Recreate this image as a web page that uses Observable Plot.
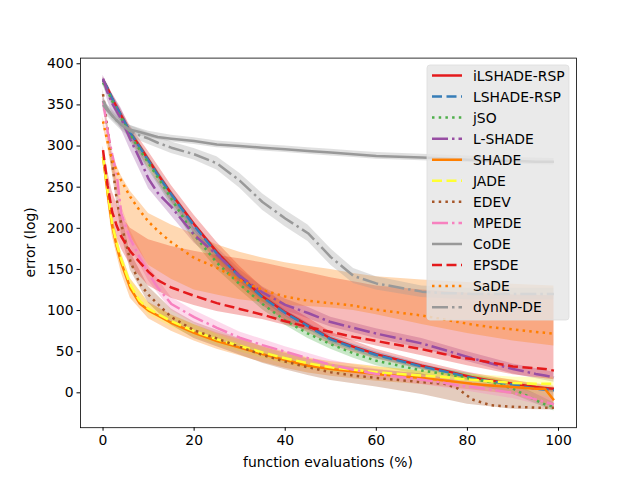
<!DOCTYPE html>
<html>
<head>
<meta charset="utf-8">
<script src="https://cdn.jsdelivr.net/npm/d3@7"></script>
<script src="https://cdn.jsdelivr.net/npm/@observablehq/plot@0.6"></script>
<style>
  html, body { margin: 0; padding: 0; background: white; }
</style>
</head>
<body>
<div id="chart"></div>
<script>
// x positions (function evaluations %) for the mean lines
const X = [0,1,2,3,4,6,8,10,12,15,20,25,30,35,40,45,50,55,60,70,75,78,81,85,90,95,97,99];
// x positions for the shaded bands
const BX = [0,1,2,4,6,10,15,20,25,30,35,40,45,50,55,60,70,80,90,99];

const names = ["iLSHADE-RSP","LSHADE-RSP","jSO","L-SHADE","SHADE","JADE","EDEV","MPEDE","CoDE","EPSDE","SaDE","dynNP-DE"];
const colors = ["#e41a1c","#377eb8","#4daf4a","#984ea3","#ff7f00","#ffff33","#a65628","#f781bf","#999999","#e41a1c","#ff7f00","#999999"];
const styles = ["solid","dashed","dotted","dashdot","solid","dashed","dotted","dashdot","solid","dashed","dotted","dashdot"];
const xTicks = [0,20,40,60,80,100];
const yTicks = [0,50,100,150,200,250,300,350,400];

// mean lines (on X)
const iLSHADE_RSP = [380,370,358,347,337,316,300,283,266,242,205,171,142,117,98,82,66,56,47,33,27,23,19,15,11,7,6,5];
const LSHADE_RSP  = [380,370,358,347,337,316,299,282,265,241,203,169,141,116,97,81,65,55,46,32,26,22,18,14,10,5,4,3];
const jSO         = [377,367,355,344,334,313,296,279,262,236,192,158,132,108,88,72,59,48,39,27,23,20,17,13,5,-9,-14,-17];
const L_SHADE     = [382,365,352,342,333,308,285,260,243,226,192,168,142,122,107,97,86,79,72,60,52,47,42,36,29,23,21,19];
const SHADE       = [287,243,203,178,158,127,109,100,94,85,73,63,55,47,40,33,29,26,23,18,15,13,11,9,7,5,5,-9];
const JADE        = [287,245,206,181,162,131,112,102,96,87,75,65,57,49,42,36,31,28,25,21,19,17,16,14,12,11,11,11];
const EDEV        = [363,320,280,235,205,160,133,119,108,92,76,66,56,46,38,31,25,21,18,13,11,5,-8,-15,-17,-18,-18,-18];
const MPEDE       = [355,318,290,266,218,187,165,145,128,108,92,79,67,58,50,42,34,28,23,16,12,9,7,4,0,-8,-11,-14];
const CoDE        = [355,345,337,331,326,320,317,314,311,309,306,302,300,298,296,294,292,290,288,286,285,284,283,282,282,281,281,281];
const EPSDE       = [295,252,220,203,190,172,159,147,137,128,118,109,102,95,87,80,74,68,63,53,47,43,41,37,32,30,29,27];
const SaDE        = [330,305,283,270,258,238,222,208,197,183,164,152,137,125,117,112,109,106,101,94,89,86,83,80,77,74,73,72];
const dynNP_DE    = [350,343,337,331,326,318,313,309,304,298,290,279,258,232,212,194,165,142,133,123,121,121,120,120,120,120,120,120];

// bands (on BX)
const iLSHADE_RSP_lo = [376,365,352,330,308,273,232,194,159,130,106,88,73,58,49,41,28,15,7,2];
const iLSHADE_RSP_hi = [384,375,364,344,324,293,252,216,183,154,128,108,91,74,63,53,38,25,15,8];
const LSHADE_RSP_lo  = [377,366,354,332,311,277,236,198,164,136,111,93,77,61,51,42,29,16,7,0];
const LSHADE_RSP_hi  = [383,374,362,342,321,287,246,208,174,146,121,101,85,69,59,50,35,22,13,6];
const jSO_lo         = [373,362,349,327,305,271,228,184,150,125,101,82,66,53,42,33,21,12,-2,-22];
const jSO_hi         = [381,372,361,341,321,287,244,200,166,139,115,94,78,65,54,45,33,24,12,-12];
const L_SHADE_lo     = [378,355,340,320,295,248,215,182,159,134,115,100,90,80,73,66,54,38,23,13];
const L_SHADE_hi     = [386,375,364,346,321,272,237,202,177,150,129,114,104,92,85,78,66,50,35,25];
const SHADE_lo       = [282,233,191,146,115,90,75,63,53,45,37,30,24,20,17,14,10,4,-2,-17];
const SHADE_hi       = [292,253,215,170,139,110,95,83,73,65,57,50,42,38,35,32,26,20,16,4];
const JADE_lo        = [283,237,198,154,124,95,80,68,58,50,42,35,29,25,22,19,15,10,6,4];
const JADE_hi        = [291,253,214,170,138,109,94,82,72,64,56,49,43,37,34,31,27,23,19,19];
const EDEV_lo        = [357,310,268,193,149,109,82,66,56,46,36,28,21,15,11,7,-2,-14,-20,-21];
const EDEV_hi        = [369,330,292,217,171,129,102,86,76,66,56,48,41,35,31,28,23,12,8,4];
const MPEDE_lo       = [350,310,281,208,177,136,100,84,71,60,51,44,36,28,22,17,10,2,-7,-19];
const MPEDE_hi       = [360,326,299,228,197,154,116,100,87,74,65,56,48,40,34,29,22,14,7,-8];
const CoDE_lo        = [349,340,332,321,315,310,305,302,298,296,294,292,290,288,286,284,282,280,278,277];
const CoDE_hi        = [361,350,342,331,325,318,313,310,306,304,302,300,298,296,294,292,290,288,286,285];
const EPSDE_lo       = [290,240,205,175,155,130,115,106,99,94,89,82,76,69,63,57,45,33,22,16];
const EPSDE_hi       = [300,270,245,215,200,186,178,172,167,163,158,152,146,140,135,130,125,121,119,118];
const SaDE_lo        = [325,298,270,225,190,155,138,125,119,113,110,106,105,103,100,95,83,72,63,57];
const SaDE_hi        = [335,310,289,264,245,218,204,193,180,171,164,158,154,150,145,141,137,134,132,130];
const dynNP_DE_lo    = [343,336,330,319,311,302,291,283,271,249,222,202,184,155,133,125,116,113,113,113];
const dynNP_DE_hi    = [357,350,344,333,325,316,305,297,287,267,242,222,204,175,151,141,130,127,127,127];

const means = [iLSHADE_RSP,LSHADE_RSP,jSO,L_SHADE,SHADE,JADE,EDEV,MPEDE,CoDE,EPSDE,SaDE,dynNP_DE];
const los = [iLSHADE_RSP_lo,LSHADE_RSP_lo,jSO_lo,L_SHADE_lo,SHADE_lo,JADE_lo,EDEV_lo,MPEDE_lo,CoDE_lo,EPSDE_lo,SaDE_lo,dynNP_DE_lo];
const his = [iLSHADE_RSP_hi,LSHADE_RSP_hi,jSO_hi,L_SHADE_hi,SHADE_hi,JADE_hi,EDEV_hi,MPEDE_hi,CoDE_hi,EPSDE_hi,SaDE_hi,dynNP_DE_hi];

const dashMap = {solid: null, dashed: "10,4.5", dotted: "2.5,4.2", dashdot: "16,4,2.5,4"};

const lineData = names.map((n, i) => X.map((x, j) => ({x, y: means[i][j], name: n})));
const bandData = names.map((n, i) => BX.map((x, j) => ({x, lo: los[i][j], hi: his[i][j], name: n})));

const W = 640, H = 480;
const mL = 80, mR = 64, mT = 57.6, mB = 52.8;

const chart = Plot.plot({
  width: W, height: H,
  marginLeft: mL, marginRight: mR, marginTop: mT, marginBottom: mB,
  style: {fontFamily: "DejaVu Sans", fontSize: "13.9px", color: "black", background: "white", overflow: "visible"},
  x: {domain: [-4.95, 103.95]},
  y: {domain: [-42.4, 406.9]},
  marks: [
    ...bandData.map((d, i) => Plot.areaY(d, {x: "x", y1: "lo", y2: "hi", fill: colors[i], fillOpacity: 0.3, curve: "linear", clip: true})),
    ...lineData.map((d, i) => Plot.lineY(d, {x: "x", y: "y", stroke: colors[i], strokeWidth: 2.5,
        strokeDasharray: dashMap[styles[i]], strokeLinecap: "butt", strokeLinejoin: "round", curve: "linear", clip: true})),
    Plot.frame({stroke: "black", strokeWidth: 0.8}),
    Plot.axisX({ticks: xTicks, tickSize: 3.5, tickPadding: 3.5, label: null, fontSize: 13.9, tickFormat: d => String(d)}),
    Plot.axisY({ticks: yTicks, tickSize: 3.5, tickPadding: 3.5, label: null, fontSize: 13.9, tickFormat: d => String(d)})
  ]
});
document.getElementById("chart").appendChild(chart);

const svg = d3.select(chart);
// axis titles
svg.append("text")
  .attr("x", mL + (W - mL - mR) / 2).attr("y", 463)
  .attr("text-anchor", "middle").attr("dominant-baseline", "middle")
  .attr("font-family", "DejaVu Sans").attr("font-size", 13.9).attr("fill", "black")
  .text("function evaluations (%)");
svg.append("text")
  .attr("transform", `translate(31,${mT + (H - mT - mB) / 2}) rotate(-90)`)
  .attr("text-anchor", "middle").attr("dominant-baseline", "middle")
  .attr("font-family", "DejaVu Sans").attr("font-size", 13.9).attr("fill", "black")
  .text("error (log)");

// legend
const lg = svg.append("g").attr("text-anchor", "start");
lg.append("rect")
  .attr("x", 427).attr("y", 65).attr("width", 142).attr("height", 255)
  .attr("rx", 3).attr("fill", "#e5e5e5").attr("fill-opacity", 0.8)
  .attr("stroke", "#dddddd").attr("stroke-opacity", 0.8).attr("stroke-width", 1);
names.forEach((n, i) => {
  const y = 75.5 + i * 21.06;
  const ln = lg.append("line")
    .attr("x1", 432).attr("x2", 462).attr("y1", y).attr("y2", y)
    .attr("stroke", colors[i]).attr("stroke-width", 2.5)
    .attr("stroke-linecap", "butt");
  if (dashMap[styles[i]]) ln.attr("stroke-dasharray", dashMap[styles[i]]);
  lg.append("text")
    .attr("x", 473).attr("y", y)
    .attr("text-anchor", "start")
    .attr("dominant-baseline", "central")
    .attr("font-family", "DejaVu Sans").attr("font-size", 13.9).attr("fill", "black")
    .text(n);
});
</script>
</body>
</html>
